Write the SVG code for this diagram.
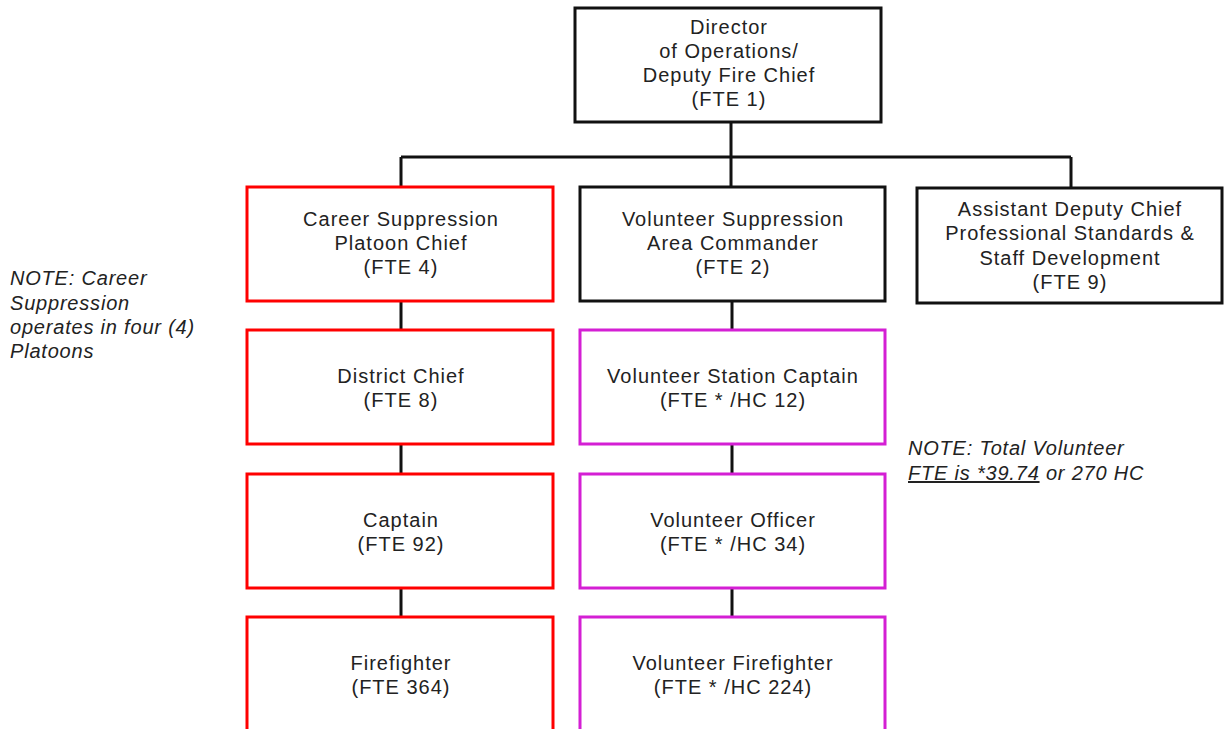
<svg xmlns="http://www.w3.org/2000/svg" width="1225" height="729" viewBox="0 0 1225 729">
<style>
.box{fill:#fff;stroke-width:3}
.k{stroke:#111}
.r{stroke:#f00}
.m{stroke:#d41fd4}
.t{font-family:"Liberation Sans",Arial,sans-serif;font-size:20px;letter-spacing:1px;fill:#222;text-anchor:middle}
.n{font-family:"Liberation Sans",Arial,sans-serif;font-size:20px;letter-spacing:0.8px;fill:#222;font-style:italic}
.c{stroke:#111;stroke-width:3;fill:none}
</style>
<rect width="1225" height="729" fill="#fff"/>
<g id="connectors">
<path class="c" d="M731 122V187M401 157H1071M401 157V187M1071 157V188"/>
<path class="c" d="M401 301V330M401 444V474M401 588V617M732 301V330M732 444V474M732 588V617"/>
</g>
<g id="director"><rect class="box k" x="575" y="8" width="306" height="114"/>
<text class="t" x="729" y="34">Director</text><text class="t" x="729" y="58">of Operations/</text><text class="t" x="729" y="82">Deputy Fire Chief</text><text class="t" x="729" y="106">(FTE 1)</text></g>
<g id="career"><rect class="box r" x="247" y="187" width="306" height="114"/>
<text class="t" x="401" y="226">Career Suppression</text><text class="t" x="401" y="250">Platoon Chief</text><text class="t" x="401" y="274">(FTE 4)</text></g>
<g id="volsup"><rect class="box k" x="580" y="187" width="305" height="114"/>
<text class="t" x="733" y="226">Volunteer Suppression</text><text class="t" x="733" y="250">Area Commander</text><text class="t" x="733" y="274">(FTE 2)</text></g>
<g id="assistant"><rect class="box k" x="917" y="188" width="305" height="115"/>
<text class="t" x="1070" y="216">Assistant Deputy Chief</text><text class="t" x="1070" y="240">Professional Standards &amp;</text><text class="t" x="1070" y="265">Staff Development</text><text class="t" x="1070" y="289">(FTE 9)</text></g>
<g id="district"><rect class="box r" x="247" y="330" width="306" height="114"/>
<text class="t" x="401" y="383">District Chief</text><text class="t" x="401" y="407">(FTE 8)</text></g>
<g id="stationcaptain"><rect class="box m" x="580" y="330" width="305" height="114"/>
<text class="t" x="733" y="383">Volunteer Station Captain</text><text class="t" x="733" y="407">(FTE * /HC 12)</text></g>
<g id="captain"><rect class="box r" x="247" y="474" width="306" height="114"/>
<text class="t" x="401" y="527">Captain</text><text class="t" x="401" y="551">(FTE 92)</text></g>
<g id="volofficer"><rect class="box m" x="580" y="474" width="305" height="114"/>
<text class="t" x="733" y="527">Volunteer Officer</text><text class="t" x="733" y="551">(FTE * /HC 34)</text></g>
<g id="firefighter"><rect class="box r" x="247" y="617" width="306" height="130"/>
<text class="t" x="401" y="670">Firefighter</text><text class="t" x="401" y="694">(FTE 364)</text></g>
<g id="volfirefighter"><rect class="box m" x="580" y="617" width="305" height="130"/>
<text class="t" x="733" y="670">Volunteer Firefighter</text><text class="t" x="733" y="694">(FTE * /HC 224)</text></g>
<g id="note1">
<text class="n" x="10" y="285">NOTE: Career</text><text class="n" x="10" y="310">Suppression</text><text class="n" x="10" y="334">operates in four (4)</text><text class="n" x="10" y="358">Platoons</text></g>
<g id="note2">
<text class="n" x="908" y="455">NOTE: Total Volunteer</text>
<text class="n" x="908" y="480"><tspan text-decoration="underline">FTE is *39.74</tspan> or 270 HC</text></g>
</svg>
